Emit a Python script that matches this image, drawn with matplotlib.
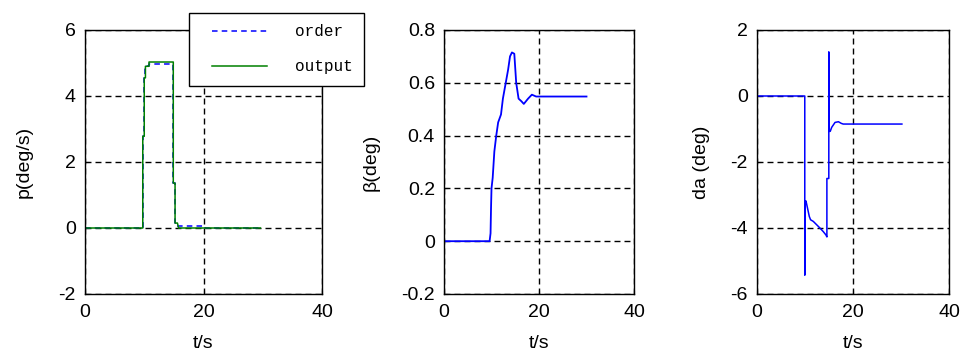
import matplotlib
matplotlib.use("Agg")
import matplotlib.pyplot as plt
from matplotlib.lines import Line2D
from matplotlib.legend_handler import HandlerLine2D

plt.rcParams['lines.scale_dashes'] = False
plt.rcParams['axes.unicode_minus'] = False
plt.rcParams['font.family'] = ['Liberation Sans', 'DejaVu Sans']

# ---------------- data ----------------
# panel 1: roll rate p (deg/s)
t_order = [0, 9.75, 9.75, 10.0, 10.0, 10.2, 10.2, 10.8, 10.8, 14.9, 14.9, 15.2, 15.2, 15.6, 15.6, 20.3, 20.3, 29.6]
p_order = [0, 0, 2.78, 2.78, 4.55, 4.55, 4.9, 4.9, 4.97, 4.97, 1.36, 1.36, 0.15, 0.15, 0.05, 0.05, 0, 0]
t_output = [0, 9.75, 9.75, 10.0, 10.0, 10.2, 10.2, 10.8, 10.8, 14.9, 14.9, 15.2, 15.2, 15.6, 15.8, 29.6]
p_output = [0, 0, 2.78, 2.78, 4.55, 4.55, 4.9, 4.9, 5.03, 5.03, 1.36, 1.36, 0.15, 0.15, 0, 0]

# panel 2: sideslip beta (deg)
t_beta = [0, 9.6, 9.8, 9.9, 10.0, 10.25, 10.6, 11.0, 11.4, 12.0, 12.4, 12.9, 13.5, 13.9, 14.3,
          14.8, 15.2, 15.7, 16.3, 16.8, 17.7, 18.5, 19.4, 30]
beta = [0, 0, 0.03, 0.125, 0.2, 0.24, 0.34, 0.40, 0.45, 0.48, 0.54, 0.59, 0.65, 0.70, 0.715,
        0.71, 0.60, 0.54, 0.53, 0.52, 0.54, 0.555, 0.548, 0.548]

# panel 3: aileron deflection da (deg)
t_da = [0, 10.0, 10.0, 10.1, 10.25, 10.5, 10.94, 11.2, 11.77, 12.46, 13.15, 13.85, 14.4, 14.6,
        14.6, 15.0, 15.0, 15.0, 15.3, 15.6, 16.3, 17.0, 17.6, 18.0, 30.2]
da = [0, 0, -5.43, -3.2, -3.18, -3.35, -3.65, -3.75, -3.8, -3.9, -4.0, -4.11, -4.21, -4.27,
      -2.5, -2.5, 1.33, -1.07, -1.07, -0.95, -0.8, -0.78, -0.83, -0.85, -0.85]

xticks = [0, 20, 40]
yticks_p = [-2, 0, 2, 4, 6]
yticks_beta = [-0.2, 0, 0.2, 0.4, 0.6, 0.8]
ytick_labels_beta = ['-0.2', '0', '0.2', '0.4', '0.6', '0.8']
yticks_da = [-6, -4, -2, 0, 2]

legend_labels = ['order', 'output']
ylabels = ['p(deg/s)', 'β(deg)', 'da (deg)']
xlabel = 't/s'

# ---------------- figure ----------------
W, H = 963, 356
fig = plt.figure(figsize=(W / 100, H / 100), dpi=100)

def frac(x0, x1):
    return [x0 / W, 1 - 294 / H, (x1 - x0) / W, (294 - 30) / H]

ax1 = fig.add_axes(frac(85, 322))
ax2 = fig.add_axes(frac(444, 634))
ax3 = fig.add_axes(frac(756.7, 949))

FS = 14
label_x = [-0.22, -0.337, -0.243]

def style(ax, yticks, ylim, ylab, lx, yticklabels=None):
    ax.set_xlim(0, 40)
    ax.set_ylim(*ylim)
    ax.set_xticks(xticks)
    ax.set_yticks(yticks)
    if yticklabels is not None:
        ax.set_yticklabels(yticklabels)
    ax.grid(True, color='black', linewidth=1.0, linestyle=(0, (4.3, 2.9)))
    ax.tick_params(direction='in', length=3, width=0.8, labelsize=FS, colors='black')
    ax.tick_params(axis='x', pad=7.5)
    ax.tick_params(axis='y', pad=6.5)
    for s in ax.spines.values():
        s.set_linewidth(1.0)
        s.set_color('black')
    ax.set_ylabel(ylab, fontsize=FS)
    ax.yaxis.set_label_coords(lx, 0.5)
    ax.set_xlabel(xlabel, fontsize=FS, va='top')
    ax.xaxis.set_label_coords(0.5, -0.155)

style(ax1, yticks_p, (-2, 6), ylabels[0], label_x[0])
style(ax2, yticks_beta, (-0.2, 0.8), ylabels[1], label_x[1], ytick_labels_beta)
style(ax3, yticks_da, (-6, 2), ylabels[2], label_x[2])

l_order, = ax1.plot(t_order, p_order, color='blue', linewidth=1.1, linestyle=(0, (4, 3)), label=legend_labels[0])
l_out, = ax1.plot(t_output, p_output, color=(0, 0.5, 0), linewidth=1.1, label=legend_labels[1])
ax2.plot(t_beta, beta, color='blue', linewidth=1.3)
ax3.plot(t_da, da, color='blue', linewidth=1.1)

leg = fig.legend([l_order, l_out], legend_labels, loc='upper left',
                 bbox_to_anchor=(189 / W, 1 - 13 / H), bbox_transform=fig.transFigure,
                 borderaxespad=0, frameon=True, fancybox=False, framealpha=1,
                 edgecolor='black', prop={'family': 'Liberation Mono', 'size': 11.5},
                 handlelength=4.15, handletextpad=1.75, borderpad=0.71, labelspacing=1.25,
                 handler_map={Line2D: HandlerLine2D(xpad=0.75)})
leg.get_frame().set_linewidth(1.0)

fig.savefig('out.png', dpi=100)
